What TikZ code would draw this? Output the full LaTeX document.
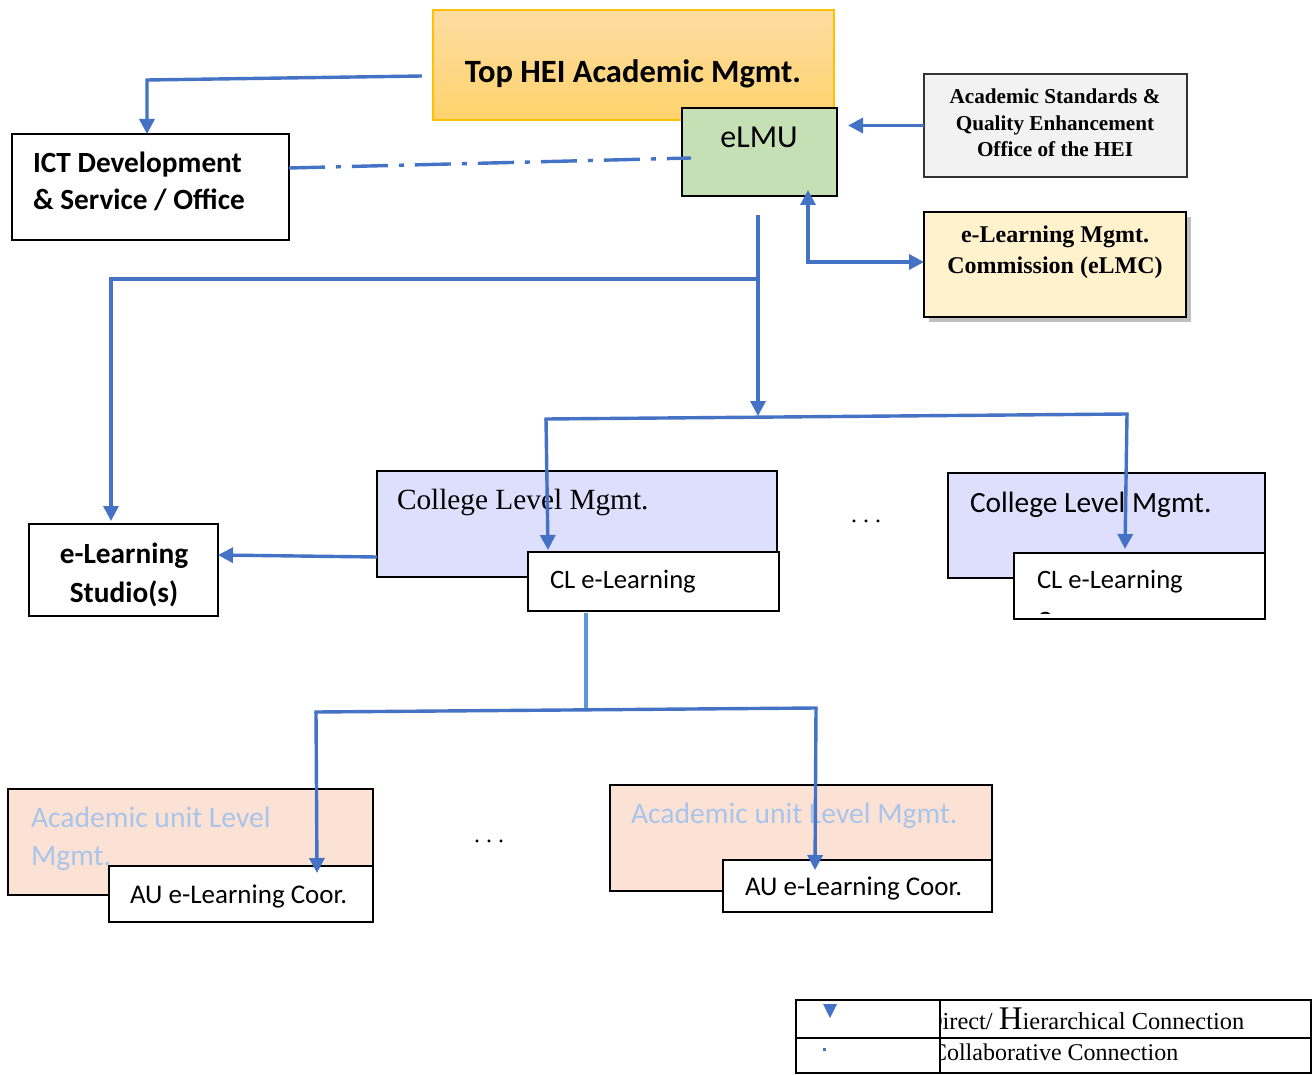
\documentclass[tikz,border=0pt]{standalone}
\usepackage{fontspec}
\setmainfont{Liberation Serif}
\newfontfamily\cali{Carlito}
\usetikzlibrary{arrows.meta,calc,shadows}
\definecolor{lnblue}{HTML}{4472C4}
\definecolor{lnlight}{HTML}{5B9BD5}
\definecolor{topborder}{HTML}{FFC000}
\definecolor{toptop}{HTML}{FDDCA2}
\definecolor{topbot}{HTML}{FFD36C}
\definecolor{elmugreen}{HTML}{C5E0B4}
\definecolor{acadgray}{HTML}{F2F2F2}
\definecolor{elmcyellow}{HTML}{FFF2CC}
\definecolor{lavender}{HTML}{DEDEFD}
\definecolor{peach}{HTML}{FBE2D5}
\definecolor{paleblue}{HTML}{A9C5EC}
\tikzset{
  box/.style={draw=black, line width=1.5pt, anchor=north west, inner sep=0pt, outer sep=0pt},
  hier/.style={draw=lnblue, line width=3.4pt, -{Triangle[length=15pt,width=15pt]}},
  hiertwo/.style={draw=lnblue, line width=3.4pt, {Triangle[length=15pt,width=15pt]}-{Triangle[length=15pt,width=15pt]}},
  plainln/.style={draw=lnblue, line width=3.4pt, line cap=rect},
  lightln/.style={draw=lnlight, line width=3.4pt},
  collab/.style={draw=lnblue, line width=3.4pt, dash pattern=on 36pt off 11pt on 5pt off 11pt},
  txt/.style={inner sep=0pt, outer sep=0pt, anchor=base west},
  ctxt/.style={inner sep=0pt, outer sep=0pt, anchor=base},
  calbold/.style={font=\cali\bfseries\fontsize{#1}{#1}\selectfont},
  calreg/.style={font=\cali\fontsize{#1}{#1}\selectfont},
  tbold/.style={font=\bfseries\fontsize{#1}{#1}\selectfont},
  treg/.style={font=\fontsize{#1}{#1}\selectfont},
}
\begin{document}
\begin{tikzpicture}[x=1pt,y=-1pt]
\useasboundingbox (0,0) rectangle (1314,1075);

% ---- boxes ----
\node[box, draw=topborder, top color=toptop, bottom color=topbot, minimum width=401pt, minimum height=110pt] (top) at (433,10) {};
\node[box, fill=elmugreen, minimum width=155pt, minimum height=88pt] (elmu) at (682,108) {};
\node[box, fill=white, minimum width=277pt, minimum height=106pt] (ict) at (12,134) {};
\node[box, draw=black!80, fill=acadgray, minimum width=263pt, minimum height=103pt] (acad) at (924,74) {};
\node[box, fill=elmcyellow, minimum width=262pt, minimum height=105pt,
      drop shadow={shadow xshift=5pt, shadow yshift=-5pt, opacity=0.25, fill=black}] (elmc) at (924,212) {};
\node[box, fill=lavender, minimum width=400pt, minimum height=106pt] (colL) at (377,471) {};
\node[box, fill=white, minimum width=251pt, minimum height=59pt] (cll) at (528,552) {};
\node[box, fill=lavender, minimum width=317pt, minimum height=105pt] (colR) at (948,473) {};
\node[box, fill=white, minimum width=251pt, minimum height=66pt] (clr) at (1014,553) {};
\node[box, fill=white, minimum width=189pt, minimum height=92pt] (studio) at (29,524) {};
\node[box, fill=peach, minimum width=365pt, minimum height=106pt] (auL) at (8,789) {};
\node[box, fill=white, minimum width=264pt, minimum height=56pt] (aulw) at (109,866) {};
\node[box, fill=peach, minimum width=382pt, minimum height=106pt] (auR) at (610,785) {};
\node[box, fill=white, minimum width=269pt, minimum height=52pt] (aurw) at (723,860) {};

% ---- texts ----
\node[ctxt, calbold=32.5] (topT) at (633,83) {Top HEI Academic Mgmt.};
\node[ctxt, calreg=32] (elmuT) at (759,148) {eLMU};
\node[txt, calbold=29.3] (ictT1) at (33,173) {ICT Development};
\node[txt, calbold=29.3] (ictT2) at (33,210) {\& Service / Office};
\node[ctxt, tbold=21.2] (acadT1) at (1055,104) {Academic Standards \&};
\node[ctxt, tbold=21.2] (acadT2) at (1055,131) {Quality Enhancement};
\node[ctxt, tbold=21.2] (acadT3) at (1055,157) {Office of the HEI};
\node[ctxt, tbold=24] (elmcT1) at (1055,243) {e-Learning Mgmt.};
\node[ctxt, tbold=24] (elmcT2) at (1055,274) {Commission (eLMC)};
\node[txt, treg=29.3] (colLT) at (397,509) {College Level Mgmt.};
\node[txt, calreg=26.6] (cllT) at (550,588) {CL e-Learning};
\node[txt, calreg=29.4] (colRT) at (970,512) {College Level Mgmt.};
\node[txt, calreg=26.6] (clrT) at (1037,588) {CL e-Learning};
\begin{scope}
  \clip (1014,553) rectangle (1265,613);
  \node[txt, calreg=26.6] (clrT2) at (1037,629) {Coor.};
\end{scope}
\node[ctxt, calbold=29.3] (studT1) at (124,563) {e-Learning};
\node[ctxt, calbold=29.3] (studT2) at (124,602) {Studio(s)};
\node[txt, calreg=29.6, text=paleblue] (auLT1) at (31,827) {Academic unit Level};
\node[txt, calreg=29.6, text=paleblue] (auLT2) at (31,865) {Mgmt.};
\node[txt, calreg=27] (aulwT) at (130,903) {AU e-Learning Coor.};
\node[txt, calreg=29.6, text=paleblue] (auRT) at (631,823) {Academic unit Level Mgmt.};
\node[txt, calreg=27] (aurwT) at (745,895) {AU e-Learning Coor.};
\node[ctxt, treg=24] (dots1) at (866,522) {.\ .\ .};
\node[ctxt, treg=24] (dots2) at (489,842) {.\ .\ .};

% ---- connectors ----
\coordinate (b1) at (147,80);
\draw[hier] ($(top.west)+(-11,11)$) -- (b1) -- (b1 |- ict.north);
\draw[collab] ($(ict.east)+(0,-19)$) -- ($(elmu.west)+(9,6)$);
\draw[hier, shorten >=11pt] (acad.west) -- (acad.west -| elmu.east);
\coordinate (b2) at (808,262);
\draw[hiertwo] ($(b2 |- elmu.south)+(0,-6)$) -- (b2) -- (b2 -| elmc.west);

\coordinate (m1) at (758,215);
\coordinate (m2) at (758,279);
\coordinate (s1) at (111,279);
\coordinate (busM) at (758,416);
\coordinate (busL) at (546,419);
\coordinate (busR) at (1127,414);
\draw[hier] (m1) -- (busM);
\draw[hier] (m2) -- (s1) -- ($(s1 |- studio.north)+(0,-3)$);
\draw[plainln] (busL) -- (busR);
\draw[hier] (busL) -- ($(busL |- cll.north)+(2,-2)$);
\draw[hier] (busR) -- ($(busR |- clr.north)+(-2,-4)$);
\draw[hier] ($(colL.south west)+(0,-20)$) -- ($(studio.east)+(0,-15)$);

\coordinate (auM) at (586,710);
\coordinate (auBL) at (316,712);
\coordinate (auBR) at (816,708);
\draw[lightln] ($(cll.south west)+(58,2)$) -- (auM);
\draw[plainln] (auBL) -- (auBR);
\draw[hier] (auBL) -- ($(auBL |- aulw.north)+(1,7)$);
\draw[hier] (auBR) -- ($(auBR |- aurw.north)+(-1,10)$);

% ---- legend ----
\draw[black, line width=1.8pt] (796,1000) rectangle (1311,1073);
\draw[black, line width=1.8pt] (796,1038) -- (1311,1038);
\draw[black, line width=1.8pt] (940,1000) -- (940,1073);
\fill[lnblue] (823,1004) -- (837,1004) -- (830,1018) -- cycle;
\fill[lnblue] (822.5,1047.5) rectangle (825.5,1050.5);
\begin{scope}
  \clip (941,1001) rectangle (1310,1072);
  \node[txt, treg=24.4] (lg1) at (925,1029) {Direct/ {\fontsize{33}{33}\selectfont H}ierarchical Connection};
  \node[txt, treg=24] (lg2) at (931,1060) {Collaborative Connection};
\end{scope}
\end{tikzpicture}
\end{document}
